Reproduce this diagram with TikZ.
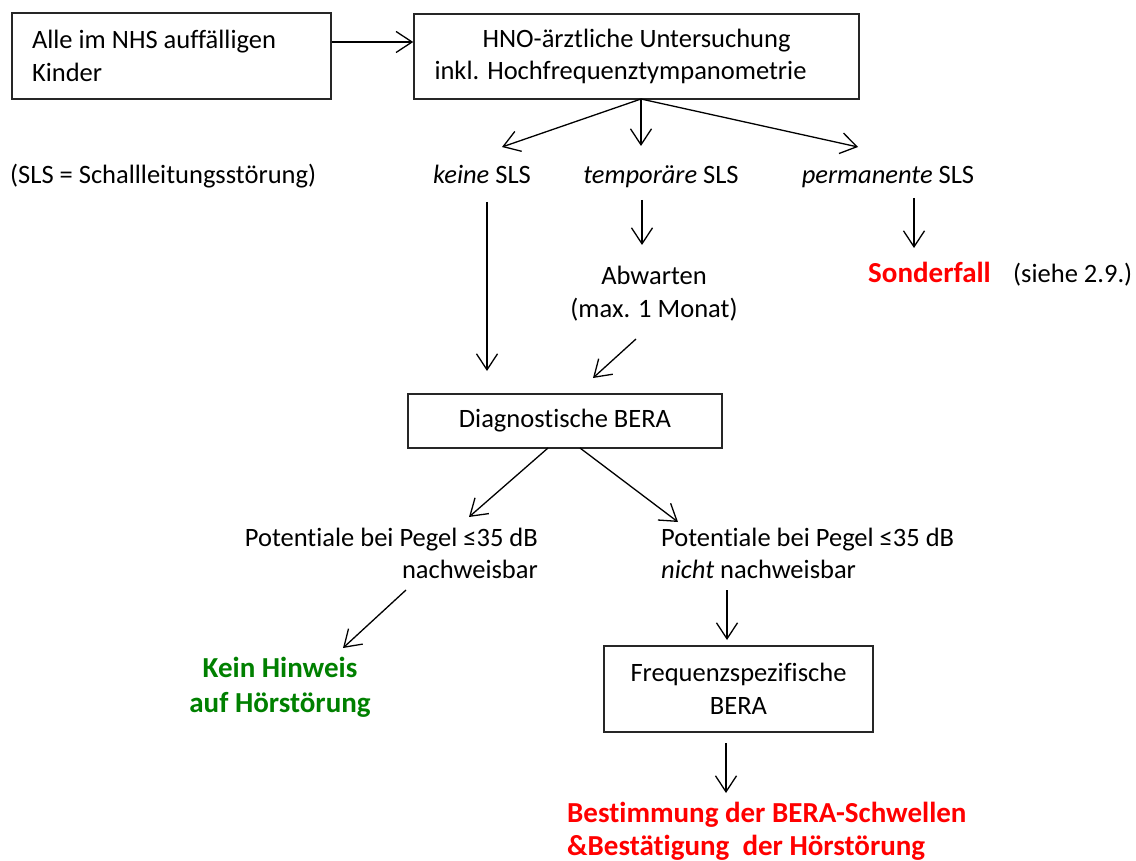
\documentclass[tikz,border=0pt]{standalone}
\usepackage{fontspec}
\setmainfont{Carlito}[Ligatures=NoCommon]
\usetikzlibrary{arrows.meta}
\definecolor{mygreen}{RGB}{0,128,0}
\definecolor{myred}{RGB}{255,0,0}
\begin{document}
\begin{tikzpicture}[x=1pt,y=-1pt,
  every node/.style={font=\fontsize{26.5}{32.5}\selectfont, inner sep=0pt},
  box/.style={draw=black!85, line width=1.5pt},
  arr/.style={line width=1.3pt, -{Straight Barb[length=16pt,width=21pt,line width=1.3pt]}},
  green/.style={text=mygreen, font=\fontsize{29}{35}\selectfont\bfseries},
  red/.style={text=myred, font=\fontsize{29}{33}\selectfont\bfseries}]
\useasboundingbox (0,0) rectangle (1136,861);

% top boxes
\node[box, minimum width=319pt, minimum height=86pt, text width=279pt, align=flush left] (alle) at (171.5,56) {Alle im NHS auffälligen\\Kinder};
\node[box, minimum width=445pt, minimum height=85pt, align=flush center] (hno) at (636.5,56.5) {HNO-ärztliche Untersuchung\\inkl. Hochfrequenztympanometrie\rule{32pt}{0pt}};
\draw[arr] (alle.east |- 0,42) -- (hno.west |- 0,42);

% second row
\node[anchor=base west] (note) at (10,184) {(SLS = Schallleitungsstörung)};
\node[anchor=base] (keine) at (482,184) {\textit{keine} SLS};
\node[anchor=base] (temp) at (661,184) {\textit{temporäre} SLS};
\node[anchor=base] (perm) at (888,184) {\textit{permanente} SLS};

\coordinate (hnob) at (641,99);
\coordinate (kTip) at (502,147);
\coordinate (tTip) at (641,146);
\coordinate (pTip) at (858,147);
\draw[arr] (hnob) -- (kTip);
\draw[arr] (hnob) -- (tTip);
\draw[arr] (hnob) -- (pTip);

% third row
\node[align=flush center] (abw) at (654,293.5) {Abwarten\\(max. 1 Monat)};
\node[red, anchor=base west] (sonder) at (868,283) {Sonderfall};
\node[anchor=base west] (siehe) at (1013,283) {(siehe 2.9.)};

\coordinate (kTop) at (487,202);
\coordinate (kEnd) at (487,371);
\coordinate (tTop) at (642,200);
\coordinate (tEnd) at (642,245);
\coordinate (pTop) at (914,198);
\coordinate (pEnd) at (914,248);
\coordinate (aTop) at (636,339);
\coordinate (aEnd) at (593,378);
\draw[arr] (kTop) -- (kEnd);
\draw[arr] (tTop) -- (tEnd);
\draw[arr] (pTop) -- (pEnd);
\draw[arr] (aTop) -- (aEnd);

% diagnostic BERA
\node[box, minimum width=314pt, minimum height=54pt] (diag) at (565,421) {Diagnostische BERA};
\coordinate (dL) at (548,448);
\coordinate (dR) at (580,448);
\coordinate (lTip) at (469,517);
\coordinate (rTip) at (678,522);
\draw[arr] (dL) -- (lTip);
\draw[arr] (dR) -- (rTip);

\node[align=flush right, anchor=east] (potL) at (538,553.5) {Potentiale bei Pegel ≤35 dB\\nachweisbar};
\node[align=flush left, anchor=west] (potR) at (661,553.5) {Potentiale bei Pegel ≤35 dB\\\textit{nicht} nachweisbar};

\coordinate (lTop) at (406,590);
\coordinate (lEnd) at (343,648);
\draw[arr] (lTop) -- (lEnd);
\node[green, align=flush center] (kein) at (280,687.5) {Kein Hinweis\\auf Hörstörung};

\coordinate (rTop) at (727,590);
\coordinate (rEnd) at (727,640);
\draw[arr] (rTop) -- (rEnd);
\node[box, minimum width=269pt, minimum height=86pt, align=flush center] (freq) at (738.5,689) {Frequenzspezifische\\BERA};

\coordinate (fTop) at (726,743);
\coordinate (fEnd) at (726,793);
\draw[arr] (fTop) -- (fEnd);
\node[red, align=flush left, anchor=west] (best) at (567,831) {Bestimmung der BERA-Schwellen\\\&Bestätigung~~der Hörstörung};
\end{tikzpicture}
\end{document}
